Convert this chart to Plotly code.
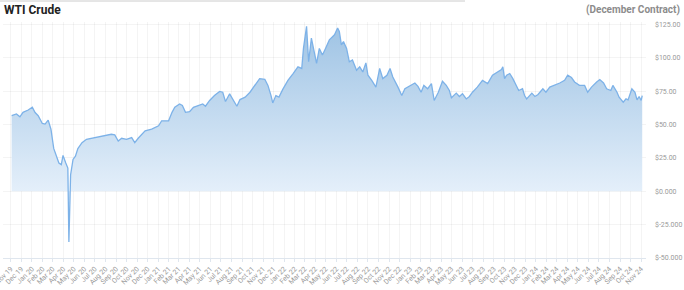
import plotly.graph_objects as go

# ---- data ----
dates = [
    "2019-11-03", "2019-11-17", "2019-11-27", "2019-12-06", "2019-12-21",
    "2020-01-02", "2020-01-10", "2020-01-19", "2020-01-31", "2020-02-08",
    "2020-02-17", "2020-02-25", "2020-03-04", "2020-03-14", "2020-03-19",
    "2020-03-26", "2020-03-31", "2020-04-08", "2020-04-14", "2020-04-17",
    "2020-04-22", "2020-04-29", "2020-05-06", "2020-05-13", "2020-05-25",
    "2020-06-07", "2020-06-21", "2020-07-10", "2020-07-30", "2020-08-18",
    "2020-08-28", "2020-09-07", "2020-09-17", "2020-10-01", "2020-10-16",
    "2020-10-25", "2020-11-04", "2020-11-24", "2020-12-13", "2021-01-02",
    "2021-01-11", "2021-01-31", "2021-02-10", "2021-02-18", "2021-03-04",
    "2021-03-12", "2021-03-21", "2021-04-02", "2021-04-13", "2021-05-01",
    "2021-05-10", "2021-05-18", "2021-05-30", "2021-06-13", "2021-06-28",
    "2021-07-07", "2021-07-15", "2021-07-27", "2021-08-05", "2021-08-17",
    "2021-08-26", "2021-09-10", "2021-09-24", "2021-10-08", "2021-10-22",
    "2021-11-06", "2021-11-15", "2021-11-24", "2021-11-29", "2021-12-08",
    "2021-12-17", "2021-12-28", "2022-01-12", "2022-01-27", "2022-02-10",
    "2022-02-21", "2022-02-26", "2022-03-07", "2022-03-10", "2022-03-13",
    "2022-03-21", "2022-03-27", "2022-04-05", "2022-04-13", "2022-04-22",
    "2022-05-01", "2022-05-12", "2022-05-27", "2022-06-05", "2022-06-10",
    "2022-06-16", "2022-06-22", "2022-07-01", "2022-07-09", "2022-07-18",
    "2022-07-30", "2022-08-08", "2022-08-17", "2022-08-26", "2022-09-01",
    "2022-09-12", "2022-09-24", "2022-10-05", "2022-10-14", "2022-10-26",
    "2022-11-04", "2022-11-12", "2022-11-27", "2022-12-08", "2022-12-17",
    "2023-01-01", "2023-01-15", "2023-01-24", "2023-02-02", "2023-02-10",
    "2023-02-21", "2023-03-04", "2023-03-12", "2023-03-24", "2023-04-05",
    "2023-04-16", "2023-04-25", "2023-05-01", "2023-05-15", "2023-05-24",
    "2023-06-02", "2023-06-13", "2023-06-22", "2023-07-01", "2023-07-15",
    "2023-07-30", "2023-08-14", "2023-08-28", "2023-09-12", "2023-09-23",
    "2023-09-27", "2023-10-02", "2023-10-08", "2023-10-17", "2023-10-26",
    "2023-11-06", "2023-11-12", "2023-11-23", "2023-11-29", "2023-12-05",
    "2023-12-20", "2023-12-29", "2024-01-07", "2024-01-21", "2024-01-30",
    "2024-02-10", "2024-02-24", "2024-03-10", "2024-03-24", "2024-04-02",
    "2024-04-13", "2024-04-22", "2024-05-06", "2024-05-21", "2024-05-30",
    "2024-06-10", "2024-06-25", "2024-07-04", "2024-07-15", "2024-07-24",
    "2024-08-05", "2024-08-11", "2024-08-23", "2024-08-29", "2024-09-10",
    "2024-09-18", "2024-09-24", "2024-10-05", "2024-10-14", "2024-10-20",
    "2024-10-26", "2024-11-01", "2024-11-04",
]
prices = [
    56.6, 57.9, 55.8, 59.1, 60.9,
    62.9, 59.0, 56.6, 50.8, 50.3,
    53.3, 46.5, 32.1, 25.0, 21.2,
    20.0, 26.8, 21.2, 17.4, -38.0,
    12.4, 23.8, 26.3, 32.0, 36.4,
    38.9, 39.7, 40.7, 41.4, 42.7,
    42.2, 37.6, 39.7, 38.9, 40.2,
    36.4, 39.7, 45.2, 46.5, 49.0,
    52.8, 52.8, 59.1, 62.9, 65.4,
    64.2, 59.1, 59.6, 62.9, 64.7,
    65.4, 63.7, 68.0, 71.7, 74.8,
    74.2, 67.2, 73.0, 69.2, 63.7,
    68.7, 70.5, 74.2, 79.8, 84.4,
    83.9, 79.3, 71.7, 66.2, 71.7,
    70.5, 76.3, 83.1, 88.2, 93.2,
    92.0, 107.0, 123.5, 109.6, 97.0,
    114.7, 107.0, 95.8, 107.0, 102.0,
    107.0, 113.4, 117.2, 122.3, 119.7,
    109.6, 112.1, 107.0, 97.0, 98.3,
    90.7, 93.2, 89.4, 96.2, 86.9,
    83.1, 78.0, 92.0, 84.4, 86.9,
    92.0, 85.6, 78.0, 71.7, 76.8,
    79.3, 81.1, 78.6, 74.2, 79.3,
    76.8, 80.6, 68.0, 74.2, 82.4,
    79.3, 75.5, 70.0, 73.5, 71.0,
    73.0, 69.2, 71.0, 74.2, 78.0,
    83.1, 80.6, 86.9, 89.4, 91.2,
    93.2, 84.4, 86.9, 88.2, 84.4,
    78.0, 75.5, 76.8, 71.7, 69.2,
    73.5, 71.0, 72.5, 76.8, 74.2,
    78.0, 79.3, 81.1, 83.1, 86.9,
    85.2, 81.9, 79.3, 79.3, 74.2,
    78.0, 81.9, 83.7, 81.1, 76.8,
    75.5, 79.3, 74.2, 70.5, 66.7,
    69.2, 68.4, 76.8, 74.2, 68.4,
    71.0, 68.0, 71.7,
]

y_tick_vals = [125, 100, 75, 50, 25, 0, -25, -50]
y_tick_text = ["$125.00", "$100.00", "$75.00", "$50.00", "$25.00",
               "$0.000", "$-25.000", "$-50.000"]

title_text = "WTI Crude"
subtitle_text = "(December Contract)"

# ---- figure ----
fig = go.Figure()
fig.add_trace(go.Scatter(
    x=dates, y=prices, mode="lines",
    line=dict(color="rgb(125,178,232)", width=1.3),
    fill="tozeroy",
    fillgradient=dict(
        type="vertical",
        start=0, stop=125,
        colorscale=[[0, "rgb(228,239,250)"], [1, "rgb(158,195,228)"]],
    ),
    hoverinfo="skip",
))

W, H = 684, 290
ml, mr, mt, mb = 3, 38, 22, 32
pw, ph = W - ml - mr, H - mt - mb

fig.update_layout(
    width=W, height=H,
    margin=dict(l=ml, r=mr, t=mt, b=mb, autoexpand=False),
    paper_bgcolor="white", plot_bgcolor="white",
    showlegend=False,
    font=dict(family="Roboto, Arial, sans-serif"),
)

fig.update_xaxes(
    type="date",
    range=["2019-10-09", "2024-11-15"],
    tick0="2019-11-01", dtick="M1",
    tickformat="%b %y", tickangle=-45,
    tickfont=dict(size=7, color="#9a9a9a"),
    ticklabeloverflow="allow",
    showgrid=True, gridcolor="rgba(0,0,0,0.045)", gridwidth=1,
    showline=True, linecolor="#dfe6ee", linewidth=1,
    ticks="outside", ticklen=3, tickcolor="#dfe6ee",
    zeroline=False, automargin=False,
)
fig.update_yaxes(
    side="right",
    range=[-50, 126.8],
    tickvals=y_tick_vals, ticktext=y_tick_text,
    tickfont=dict(size=7, color="#9a9a9a"),
    showgrid=True, gridcolor="rgba(0,0,0,0.045)", gridwidth=1,
    zeroline=False, showline=False, ticks="",
    ticklabelstandoff=8, automargin=False,
)

# title and subtitle
fig.add_annotation(
    text="<b>" + title_text + "</b>", xref="paper", yref="paper",
    x=(2 - ml) / pw, y=(H - mb - 10) / ph, xanchor="left", yanchor="middle",
    showarrow=False, font=dict(size=12, color="#222222", family="Roboto"),
)
fig.add_annotation(
    text="<b>" + subtitle_text + "</b>", xref="paper", yref="paper",
    x=(682 - ml) / pw, y=(H - mb - 10) / ph, xanchor="right", yanchor="middle",
    showarrow=False, font=dict(size=10, color="#8c8c8c", family="Roboto"),
)
# thin top rule
fig.add_shape(
    type="line", xref="paper", yref="paper",
    x0=(0 - ml) / pw, x1=(465 - ml) / pw,
    y0=(H - mb - 1) / ph, y1=(H - mb - 1) / ph,
    line=dict(color="#cccccc", width=1),
)

fig.write_html("out.html")
